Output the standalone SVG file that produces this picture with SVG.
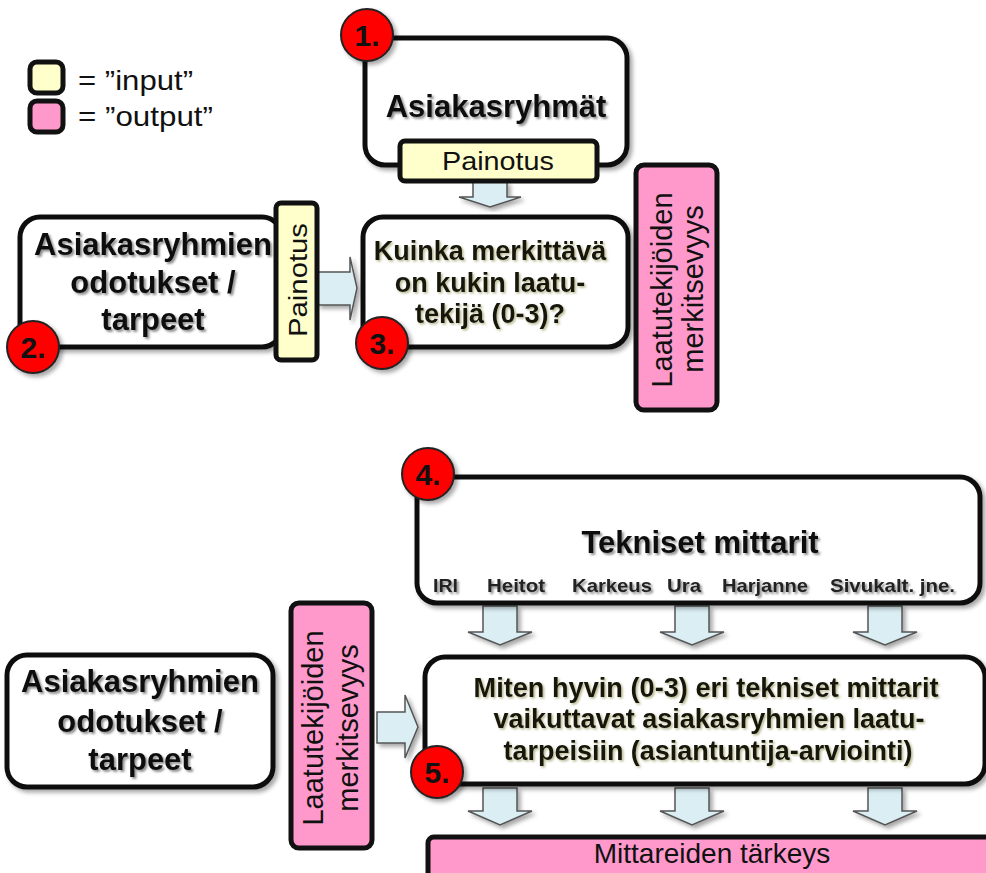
<svg xmlns="http://www.w3.org/2000/svg" width="986" height="873" viewBox="0 0 986 873">
<defs>
<filter id="sh" x="-10%" y="-10%" width="130%" height="130%"><feDropShadow dx="3" dy="3" stdDeviation="2" flood-color="#000" flood-opacity="0.35"/></filter>
<filter id="ts" x="-5%" y="-20%" width="115%" height="150%"><feDropShadow dx="2" dy="2" stdDeviation="1" flood-color="#444" flood-opacity="0.6"/></filter>
<filter id="tso" x="-5%" y="-20%" width="115%" height="150%"><feDropShadow dx="1.5" dy="1.5" stdDeviation="0.8" flood-color="#77772e" flood-opacity="0.55"/></filter>
<style>
.box{fill:#fff;stroke:#111;stroke-width:5;filter:url(#sh)}
.in{fill:#FFFFCC;stroke:#111;stroke-width:5}
.out{fill:#FF99CC;stroke:#111;stroke-width:5}
.t{font-family:"Liberation Sans",Arial,sans-serif;fill:#111}
.big{font-size:31px;font-weight:bold;text-anchor:middle;filter:url(#ts)}
.q{font-size:27px;font-weight:bold;text-anchor:middle;filter:url(#tso);fill:#141410}
.lab{font-size:25px;text-anchor:middle}
.rot{font-size:29px;text-anchor:middle}
.sub{font-size:19px;font-weight:bold;fill:#222;filter:url(#ts)}
.num{fill:#FF0000;stroke:#222;stroke-width:2;filter:url(#sh)}
.nt{font-family:"Liberation Sans",Arial,sans-serif;font-size:30px;font-weight:bold;fill:#111;text-anchor:middle}
.arr{fill:#DAEEF3;stroke:#555;stroke-width:1.5;filter:url(#sh)}
</style>
</defs>
<rect width="986" height="873" fill="#fff"/>

<g id="legend">
<rect class="in" x="30" y="62" width="33" height="31" rx="7"/>
<rect class="out" x="30" y="101" width="33" height="31" rx="7"/>
<text class="t" x="78" y="90" font-size="28" textLength="115" lengthAdjust="spacingAndGlyphs">= ”input”</text>
<text class="t" x="78" y="126" font-size="28" textLength="135" lengthAdjust="spacingAndGlyphs">= ”output”</text>
</g>

<g id="connectors">
<path class="arr" d="M473,182 L507,182 L507,197 L521,197 L490,207 L459,197 L473,197 Z"/>
<path class="arr" d="M318,272 L350,272 L350,257 L357,288 L350,320 L350,305 L318,305 Z"/>
<path class="arr" d="M483,606 L517,606 L517,632 L532,632 L500,645 L468,632 L483,632 Z"/>
<path class="arr" d="M675,606 L709,606 L709,632 L724,632 L692,645 L660,632 L675,632 Z"/>
<path class="arr" d="M868,606 L902,606 L902,632 L917,632 L885,645 L853,632 L868,632 Z"/>
<path class="arr" d="M483,788 L517,788 L517,811 L532,811 L500,825 L468,811 L483,811 Z"/>
<path class="arr" d="M675,788 L709,788 L709,811 L724,811 L692,825 L660,811 L675,811 Z"/>
<path class="arr" d="M868,788 L902,788 L902,811 L917,811 L885,825 L853,811 L868,811 Z"/>
<path class="arr" d="M377,712 L405,712 L405,695 L418,727 L405,758 L405,743 L377,743 Z"/>
</g>

<g id="node1">
<rect class="box" x="365" y="38" width="262" height="127" rx="20"/>
<text class="t big" x="496" y="117">Asiakasryhmät</text>
<rect class="in" x="400" y="141" width="197" height="40" rx="5"/>
<text class="t lab" x="498" y="170" textLength="112" lengthAdjust="spacingAndGlyphs">Painotus</text>
<circle class="num" cx="367" cy="35" r="26"/>
<text class="nt" x="367" y="46">1.</text>
</g>

<g id="node2">
<rect class="box" x="20" y="217" width="262" height="130" rx="20"/>
<text class="t big" x="153" y="255">Asiakasryhmien</text>
<text class="t big" x="153" y="293">odotukset /</text>
<text class="t big" x="153" y="330">tarpeet</text>
<rect class="in" x="276" y="203" width="41" height="157" rx="5"/>
<text class="t lab" transform="translate(298,280) rotate(-90)" x="0" y="9" textLength="114" lengthAdjust="spacingAndGlyphs">Painotus</text>
<circle class="num" cx="33" cy="347" r="26"/>
<text class="nt" x="33" y="358">2.</text>
</g>

<g id="node3">
<rect class="box" x="363" y="217" width="265" height="130" rx="20"/>
<text class="t q" x="490" y="260">Kuinka merkittävä</text>
<text class="t q" x="490" y="292">on kukin laatu-</text>
<text class="t q" x="490" y="323">tekijä (0-3)?</text>
<circle class="num" cx="382" cy="343" r="26"/>
<text class="nt" x="382" y="354">3.</text>
</g>

<g id="output1">
<rect class="out" x="636" y="165" width="81" height="245" rx="8"/>
<text class="t rot" transform="translate(662,290) rotate(-90)" x="0" y="10">Laatutekijöiden</text>
<text class="t rot" transform="translate(693,289) rotate(-90)" x="0" y="10">merkitsevyys</text>
</g>

<g id="node4">
<rect class="box" x="417" y="477" width="563" height="126" rx="20"/>
<text class="t big" x="700" y="553">Tekniset mittarit</text>
<text class="t sub" x="433" y="592" textLength="25" lengthAdjust="spacingAndGlyphs">IRI</text>
<text class="t sub" x="487" y="592" textLength="58" lengthAdjust="spacingAndGlyphs">Heitot</text>
<text class="t sub" x="572" y="592" textLength="80" lengthAdjust="spacingAndGlyphs">Karkeus</text>
<text class="t sub" x="667" y="592" textLength="34" lengthAdjust="spacingAndGlyphs">Ura</text>
<text class="t sub" x="722" y="592" textLength="86" lengthAdjust="spacingAndGlyphs">Harjanne</text>
<text class="t sub" x="830" y="592" textLength="125" lengthAdjust="spacingAndGlyphs">Sivukalt. jne.</text>
<circle class="num" cx="428" cy="474" r="26"/>
<text class="nt" x="428" y="485">4.</text>
</g>

<g id="node5">
<rect class="box" x="425" y="657" width="560" height="127" rx="20"/>
<text class="t q" x="706" y="697" textLength="465" lengthAdjust="spacingAndGlyphs">Miten hyvin (0-3) eri tekniset mittarit</text>
<text class="t q" x="709" y="728" textLength="431" lengthAdjust="spacingAndGlyphs">vaikuttavat asiakasryhmien laatu-</text>
<text class="t q" x="708" y="760" textLength="409" lengthAdjust="spacingAndGlyphs">tarpeisiin (asiantuntija-arviointi)</text>
<circle class="num" cx="437" cy="772" r="26"/>
<text class="nt" x="437" y="783">5.</text>
</g>

<g id="node2b">
<rect class="box" x="7" y="655" width="266" height="132" rx="20"/>
<text class="t big" x="140" y="692">Asiakasryhmien</text>
<text class="t big" x="140" y="732">odotukset /</text>
<text class="t big" x="140" y="770">tarpeet</text>
</g>

<g id="output2">
<rect class="out" x="291" y="603" width="81" height="245" rx="8"/>
<text class="t rot" transform="translate(313,728) rotate(-90)" x="0" y="10">Laatutekijöiden</text>
<text class="t rot" transform="translate(348,728) rotate(-90)" x="0" y="10">merkitsevyys</text>
</g>

<g id="output3">
<rect class="out" x="428" y="837" width="570" height="42" rx="6"/>
<text class="t" x="712" y="863" font-size="28" text-anchor="middle">Mittareiden tärkeys</text>
</g>
</svg>
